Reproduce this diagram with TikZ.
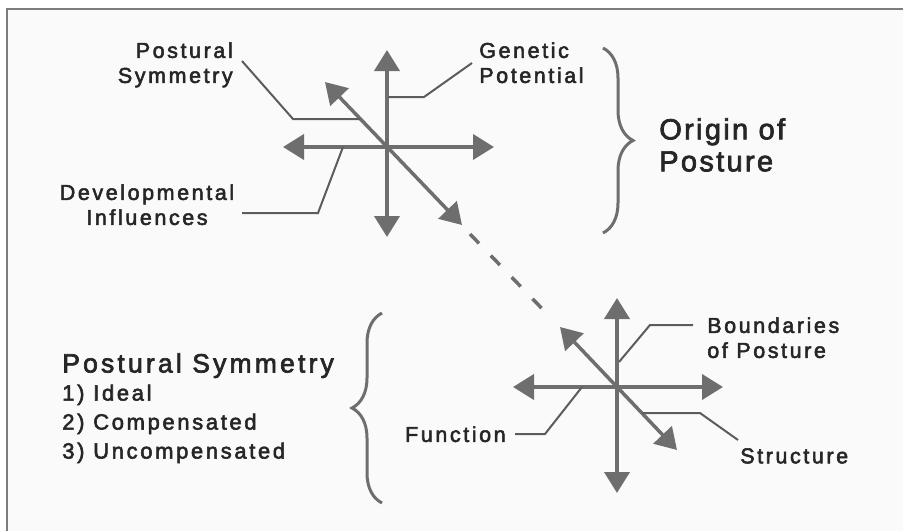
\documentclass[tikz,border=0pt]{standalone}
\usepackage{fontspec}
\setmainfont{Liberation Sans}[LetterSpace=12, FakeBold=2.5]
\usetikzlibrary{arrows.meta,decorations.pathreplacing,positioning}

\definecolor{arrowgray}{HTML}{6E6E6E}
\definecolor{leadgray}{HTML}{5C5C5C}
\definecolor{labelink}{HTML}{262626}
\definecolor{framegray}{HTML}{7C7C7C}
\definecolor{paper}{HTML}{FAFAFA}

\begin{document}
\begin{tikzpicture}[
    x = 1pt, y = -1pt, % one unit per pixel, y runs down
    > = {Triangle[length=21pt, width=25pt]}, % arrow head style
    semithick % line style
    ]

    \tikzset{
    axis/.style = {draw = arrowgray, line width = 4pt, <->},
    dashaxis/.style = {draw = arrowgray, line width = 3.5pt, dash pattern = on 13pt off 17pt},
    leader/.style = {draw = leadgray, line width = 2pt},
    label/.style = {text = labelink, inner sep = 0pt, font = \fontsize{21.5}{25}\selectfont},
    biglabel/.style = {label, font = \fontsize{29}{32}\selectfont\addfontfeatures{LetterSpace=8}},
    curly/.style = {draw = arrowgray, line width = 3pt, decorate,
        decoration = {brace, amplitude = 30pt}}
    }

    % frame and paper
    \useasboundingbox (0,0) rectangle (903,531);
    \fill[white] (0,0) rectangle (903,531);
    \fill[paper] (7,9) rectangle (903,531);
    \draw[framegray, line width = 1.5pt] (7,531) -- (7,9) -- (903,9);

    % origin cross
    \coordinate (o) at (387,147);
    \coordinate (on) at (387,50);
    \coordinate (os) at (387,237);
    \coordinate (ow) at (283,147);
    \coordinate (oe) at (494,147);
    \coordinate (onw) at (325,82);
    \coordinate (ose) at (462,225);
    \draw[axis] (on) -- (os);
    \draw[axis] (ow) -- (oe);
    \draw[axis, line width = 3.5pt] (onw) -- (ose);

    % boundaries cross
    \coordinate (b) at (617,387);
    \coordinate (bn) at (617,298);
    \coordinate (bs) at (617,493);
    \coordinate (bw) at (513,387);
    \coordinate (be) at (723,387);
    \coordinate (bnw) at (560,327);
    \coordinate (bse) at (677,450);
    \draw[axis] (bn) -- (bs);
    \draw[axis] (bw) -- (be);
    \draw[axis, line width = 3.5pt] (bnw) -- (bse);

    % link between the two
    \coordinate (linka) at (470,234);
    \coordinate (linkb) at (553,320);
    \draw[dashaxis] (linka) -- (linkb);

    % labels of the origin cross
    \node[label, align = right, anchor = north east] (psym) at (233,42) {Postural\\Symmetry};
    \node[label, align = left, anchor = north west] (gpot) at (479,42) {Genetic\\Potential};
    \node[label, align = center, anchor = north] (devi) at (147,184) {Developmental\\Influences};
    \node[biglabel, align = left, anchor = north west] (origin) at (659,118) {Origin of\\Posture};

    \draw[leader] (242,61) -- (293,119) -- (360,119);
    \draw[leader] (472,63) -- (424,97) -- (388,97);
    \draw[leader] (242,213) -- (318,213) -- (343,147);

    % labels of the boundaries cross
    \node[label, align = left, anchor = north west] (bound) at (707,317) {Boundaries\\of Posture};
    \node[label, anchor = north east] (func) at (506,426) {Function};
    \node[label, anchor = north west] (struct) at (740,448) {Structure};

    \draw[leader] (693,325) -- (650,325) -- (619,362);
    \draw[leader] (515,434) -- (545,434) -- (582,387);
    \draw[leader] (642,413) -- (700,413) -- (738,440);

    % postural symmetry list
    \node[label, font = \fontsize{26.5}{29}\selectfont, anchor = north west] (pstitle) at (62,353) {Postural Symmetry};
    \node[label, font = \fontsize{22}{29}\selectfont, align = left,
        below = 6pt of pstitle.south west, anchor = north west] (pslist)
        {1) Ideal\\2) Compensated\\3) Uncompensated};

    % braces
    \coordinate (ubt) at (603,48);
    \coordinate (ubb) at (603,233);
    \draw[curly] (ubt) -- (ubb);
    \coordinate (lbb) at (382,503);
    \coordinate (lbt) at (382,313);
    \draw[curly] (lbb) -- (lbt);
\end{tikzpicture}
\end{document}
